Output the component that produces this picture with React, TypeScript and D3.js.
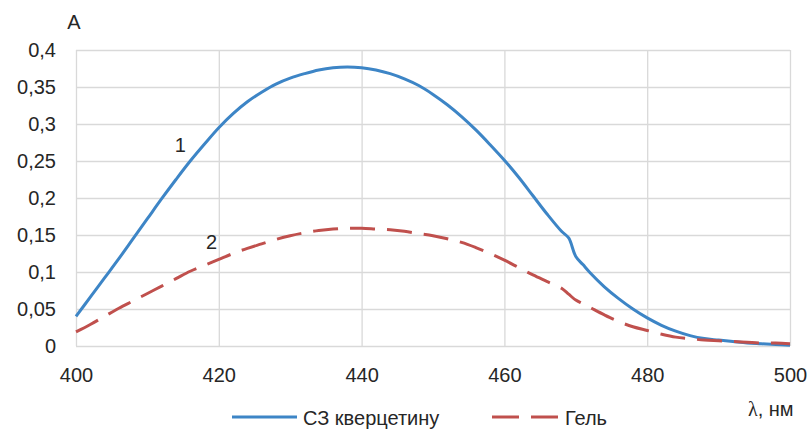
import React, {useEffect, useRef} from 'react'
import * as d3 from 'd3'

// wavelength, nm
const wavelengths = [
    400, 402, 404, 406, 408, 410, 412, 414, 416, 418, 420, 422, 424, 426, 428, 430,
    432, 434, 436, 438, 440, 442, 444, 446, 448, 450, 452, 454, 456, 458, 460, 462,
    464, 466, 468, 469, 470, 471, 472, 474, 476, 478, 480, 482, 484, 486, 488, 490,
    492, 494, 496, 498, 500
]

// curve 1 - СЗ кверцетину
const quercetin = [
    0.040, 0.066, 0.092, 0.118, 0.145, 0.172, 0.199, 0.225, 0.250, 0.273, 0.295, 0.314, 0.330, 0.343, 0.354, 0.362,
    0.368, 0.373, 0.376, 0.377, 0.376, 0.373, 0.368, 0.361, 0.352, 0.340, 0.326, 0.310, 0.292, 0.272, 0.251, 0.228,
    0.203, 0.178, 0.155, 0.146, 0.121, 0.110, 0.099, 0.080, 0.064, 0.050, 0.038, 0.028, 0.020, 0.014, 0.010, 0.008,
    0.006, 0.004, 0.003, 0.002, 0.001
]

// curve 2 - Гель
const gel = [
    0.019, 0.029, 0.040, 0.051, 0.061, 0.071, 0.081, 0.091, 0.101, 0.109, 0.117, 0.125, 0.132, 0.138, 0.144, 0.149,
    0.153, 0.156, 0.158, 0.159, 0.159, 0.158, 0.157, 0.155, 0.152, 0.149, 0.145, 0.140, 0.133, 0.125, 0.116, 0.106,
    0.096, 0.087, 0.078, 0.070, 0.062, 0.057, 0.052, 0.042, 0.033, 0.026, 0.021, 0.016, 0.012, 0.010, 0.008, 0.007,
    0.006, 0.005, 0.004, 0.004, 0.003
]

const xTicks = [400, 420, 440, 460, 480, 500]
const yTicks = [0, 0.05, 0.1, 0.15, 0.2, 0.25, 0.3, 0.35, 0.4]

const seriesNames = ['СЗ кверцетину', 'Гель']

const W = 808
const H = 430
const margin = {top: 50, right: 18, bottom: 84, left: 76}
const font = "'Liberation Sans', Arial, sans-serif"
const blue = '#3d85c6'
const red = '#c0504d'
const grid = '#d9d9d9'

function App() {
    const ref = useRef<SVGSVGElement>(null)

    useEffect(() => {
        const svg = d3.select(ref.current)
        svg.selectAll('*').remove()

        const innerW = W - margin.left - margin.right
        const innerH = H - margin.top - margin.bottom

        const x = d3.scaleLinear().domain([400, 500]).range([0, innerW])
        const y = d3.scaleLinear().domain([0, 0.4]).range([innerH, 0])

        const g = svg.append('g')
            .attr('transform', 'translate(' + margin.left + ',' + margin.top + ')')

        // gridlines + tick labels
        const xAxis = g.append('g')
            .attr('transform', 'translate(0,' + innerH + ')')
            .call(d3.axisBottom(x).tickValues(xTicks).tickSize(-innerH).tickPadding(22).tickFormat(d3.format('d')))
        const yAxis = g.append('g')
            .call(d3.axisLeft(y).tickValues(yTicks).tickSize(-innerW).tickPadding(20)
                .tickFormat(d => String(+d).replace('.', ',')))

        for (const ax of [xAxis, yAxis]) {
            ax.select('.domain').remove()
            ax.selectAll('line').attr('stroke', grid).attr('stroke-width', 1.3)
            ax.selectAll('text')
                .attr('fill', '#262626')
                .style('font-family', font)
                .style('font-size', '20px')
        }

        const line = (vals: number[]) => d3.line<number>()
            .x((_, i) => x(wavelengths[i]))
            .y(d => y(d))
            .curve(d3.curveCatmullRom.alpha(0.5))(vals)

        g.append('path')
            .attr('d', line(quercetin))
            .attr('fill', 'none')
            .attr('stroke', blue)
            .attr('stroke-width', 3)

        g.append('path')
            .attr('d', line(gel))
            .attr('fill', 'none')
            .attr('stroke', red)
            .attr('stroke-width', 3)
            .attr('stroke-dasharray', '25 12')

        // curve numbers
        g.append('text')
            .attr('x', x(414.6)).attr('y', y(0.262))
            .attr('text-anchor', 'middle')
            .style('font-family', font).style('font-size', '20px').attr('fill', '#262626')
            .text('1')
        g.append('text')
            .attr('x', x(419)).attr('y', y(0.131))
            .attr('text-anchor', 'middle')
            .style('font-family', font).style('font-size', '20px').attr('fill', '#262626')
            .text('2')

        // axis titles
        svg.append('text')
            .attr('x', 74).attr('y', 29)
            .attr('text-anchor', 'middle')
            .style('font-family', font).style('font-size', '20px').attr('fill', '#262626')
            .text('A')

        const lam = svg.append('text')
            .attr('x', 748).attr('y', 416)
            .style('font-family', font).style('font-size', '20px').attr('fill', '#262626')
        lam.append('tspan').style('font-family', "'Liberation Serif', serif").text('λ')
        lam.append('tspan').text(', нм')

        // legend
        const leg = svg.append('g')
        leg.append('line')
            .attr('x1', 232).attr('x2', 297).attr('y1', 417).attr('y2', 417)
            .attr('stroke', blue).attr('stroke-width', 3)
        leg.append('text')
            .attr('x', 303).attr('y', 425)
            .style('font-family', font).style('font-size', '20px').attr('fill', '#262626')
            .text(seriesNames[0])
        leg.append('line')
            .attr('x1', 492).attr('x2', 558).attr('y1', 417).attr('y2', 417)
            .attr('stroke', red).attr('stroke-width', 3)
            .attr('stroke-dasharray', '27 12')
        leg.append('text')
            .attr('x', 565).attr('y', 425)
            .style('font-family', font).style('font-size', '20px').attr('fill', '#262626')
            .text(seriesNames[1])
    }, [])

    return (
        <svg ref={ref} width={W} height={H}
            style={{position: 'absolute', left: 0, top: 0, background: 'white'}} />
    )
}

export default App
